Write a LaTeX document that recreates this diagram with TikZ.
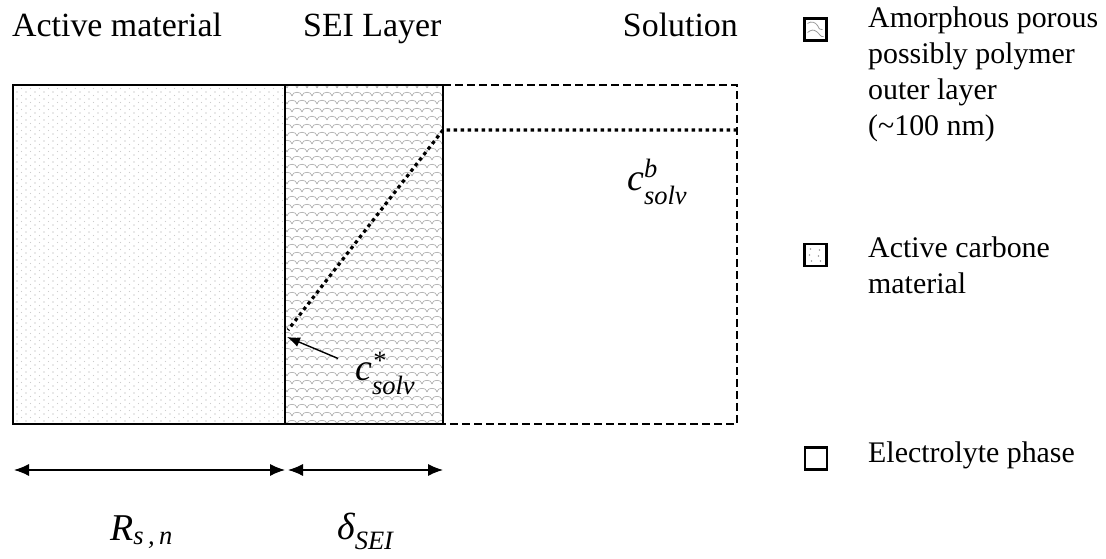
\documentclass[tikz,border=0pt]{standalone}
\usepackage{amsmath}
\usepackage{fontspec}
\setmainfont{Liberation Serif}
\usetikzlibrary{arrows.meta,positioning}

\newcommand{\itsub}[1]{\text{\itshape #1}}
\newcommand{\itup}[2]{\text{\raisebox{#1}{\itshape #2}}}

\tikzset{
  hdr/.style={font=\fontsize{34}{40}\selectfont, inner sep=0pt},
  legtext/.style={font=\fontsize{30}{36}\selectfont, inner sep=0pt, align=left},
  legbox/.style={draw, line width=2.2bp, minimum size=22bp, inner sep=0pt},
  conc/.style={font=\fontsize{38}{44}\selectfont, inner sep=0pt},
  dimarrow/.style={{Latex[length=15bp,width=12bp]}-{Latex[length=15bp,width=12bp]}, line width=1.2bp},
  ptr/.style={-{Latex[length=13bp,width=10bp]}, line width=1.4bp},
  dotline/.style={line width=3.2bp, dash pattern=on 3.5bp off 3.5bp},
  solbox/.style={line width=1.8bp, dash pattern=on 8bp off 4bp}
}

\begin{document}
\begin{tikzpicture}[x=1bp,y=1bp]
\useasboundingbox (0,0) rectangle (1106,559);

% corners of the layers
\coordinate (act-sw) at (13,135);
\coordinate (div-s) at (285,135);
\coordinate (div-n) at (285,474);
\coordinate (sei-ne) at (443,474);
\coordinate (sei-se) at (443,135);
\coordinate (sol-ne) at (737,474);
\coordinate (sol-se) at (737,135);

% dotted texture of the active material
\begin{scope}
\clip (act-sw) rectangle (div-n);
\foreach \i in {0,...,30}
  \foreach \j in {0,...,48} {
    \fill[gray!75] (17+9*\i,138+7*\j) circle (0.7);
    \fill[gray!40] (21.5+9*\i,141.5+7*\j) circle (0.6);
  }
\end{scope}

% scales of the SEI layer
\begin{scope}
\clip (div-s) rectangle (sei-ne);
\foreach \j [evaluate=\j as \off using {5*mod(\j,2)}] in {0,...,43}
  \foreach \i in {0,...,16}
    \draw[gray!70, line width=0.6] (277+10*\i+\off,135+8*\j)
      .. controls (277+10*\i+\off,140+8*\j) and (287+10*\i+\off,140+8*\j) .. (287+10*\i+\off,135+8*\j);
\end{scope}

\draw[line width=2.5bp] (act-sw) rectangle (sei-ne);
\draw[line width=2.5bp] (div-s) -- (div-n);
\draw[solbox] (sei-ne) -- (sol-ne) -- (sol-se) -- (sei-se);

% solvent concentration profile
\coordinate (cb-top) at (443,429);
\coordinate (cb-end) at (737,429);
\coordinate (cint) at (288,229);
\coordinate (ctip) at (287,222);
\draw[dotline] (cb-end) -- (cb-top) -- (cint);

\node[conc, anchor=base west] (cbulk) at (627,368) {$\textit{c}^{\itup{4bp}{b}}_{\itup{-3bp}{solv}}$};
\node[conc, anchor=base west] (cstar) at (355,178) {$\textit{c}^{\itup{2bp}{*}}_{\itup{-3bp}{solv}}$};
\draw[ptr] ([shift={(-17bp,-6bp)}]cstar.north west) -- (ctip);

% headings
\node[hdr, anchor=base west] (hdract) at (12,522) {Active material};
\node[hdr, anchor=base west] (hdrsei) at (303,522) {SEI Layer};
\node[hdr, anchor=base east] (hdrsol) at (738,522) {Solution};

% thicknesses
\coordinate (dimA) at (14,89);
\coordinate (dimB) at (285,89);
\coordinate (dimC) at (288,89);
\coordinate (dimD) at (443,89);
\draw[dimarrow] (dimA) -- (dimB);
\draw[dimarrow] (dimC) -- (dimD);
\node[conc, anchor=base west] (rsn) at (110,18) {$\textit{R}_{\itsub{s\,,\,n}}$};
\node[conc, anchor=base west] (dsei) at (337,19) {$\textit{δ}_{\itsub{SEI}}$};

% legend
\node[legbox] (leg1) at (815.5,529.5) {};
\draw[gray!80, line width=0.8] ([shift={(-8,6)}]leg1.center) .. controls +(4,3) and +(-2,3) .. ([shift={(2,4)}]leg1.center)
  .. controls +(2,-3) and +(-4,0) .. ([shift={(7,0)}]leg1.center);
\draw[gray!80, line width=0.8] ([shift={(-8,-3)}]leg1.center) .. controls +(4,3) and +(-3,2) .. ([shift={(1,-2)}]leg1.center)
  .. controls +(3,-2) and +(-3,-1) .. ([shift={(8,-7)}]leg1.center);
\node[legtext, anchor=north west] (legt1) at (868,552)
  {Amorphous porous\\possibly polymer\\outer layer\\(\textasciitilde100 nm)};

\node[legbox] (leg2) at (815.5,304) {};
\foreach \dx/\dy in {-5/6,4/5,-6/0,3/-1,-4/-6,5/-6}
  \fill[gray!80] ([shift={(\dx,\dy)}]leg2.center) circle (0.9);
\node[legtext, anchor=north west] (legt2) at (868,322) {Active carbone\\material};

\node[legbox] (leg3) at (816,100.5) {};
\node[legtext, anchor=base west] (legt3) at (868,96) {Electrolyte phase};
\end{tikzpicture}
\end{document}
